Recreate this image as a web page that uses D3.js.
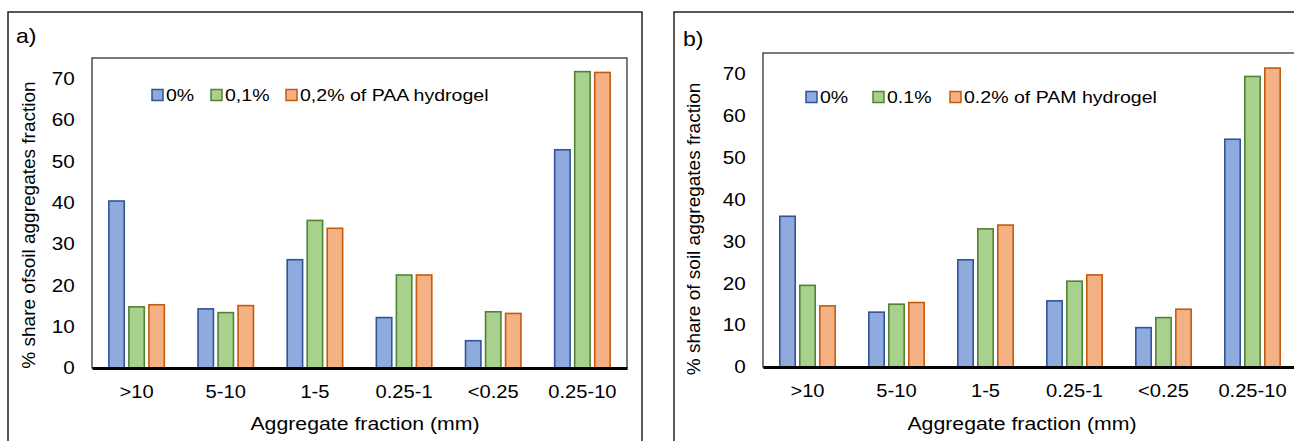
<!DOCTYPE html>
<html>
<head>
<meta charset="utf-8">
<script src="https://cdn.jsdelivr.net/npm/d3@7"></script>
<style>
  body { margin: 0; background: #fff; }
  svg text { font-family: "Liberation Sans", Arial, sans-serif; fill: #000; }
</style>
</head>
<body>
<svg id="chart" width="1294" height="441"></svg>
<script>
// aggregate fractions
var categories = ['>10', '5-10', '1-5', '0.25-1', '<0.25', '0.25-10'];
var paaZero = [40.4, 14.3, 26.2, 12.2, 6.6, 52.8];
var paaLow = [14.8, 13.4, 35.7, 22.5, 13.6, 71.7];
var paaHigh = [15.3, 15.1, 33.8, 22.5, 13.2, 71.5];
var pamZero = [36.0, 13.1, 25.6, 15.8, 9.4, 54.4];
var pamLow = [19.5, 15.0, 33.0, 20.5, 11.8, 69.4];
var pamHigh = [14.6, 15.4, 33.9, 22.0, 13.8, 71.4];
var yTicks = [0, 10, 20, 30, 40, 50, 60, 70];
var legendA = ['0%', '0,1%', '0,2% of PAA hydrogel'];
var legendB = ['0%', '0.1%', '0.2% of PAM hydrogel'];

var FILLS = ['#8faadc', '#a9d18e', '#f4b183'],
    STROKES = ['#2f5597', '#548235', '#c55a11'],
    SX = 1.15; // text in the source is a bit wide

var svg = d3.select('#chart');

function stretched(g, x, y, str, size, anchor) {
    return g.append('text')
        .attr('transform', 'translate(' + x + ',' + y + ') scale(' + SX + ',1)')
        .attr('text-anchor', anchor || 'middle')
        .attr('dy', '0.35em')
        .attr('font-size', size)
        .text(str);
}

function drawPanel(p) {
    var g = svg.append('g');
    // outer frame
    g.append('rect')
        .attr('x', p.frame[0]).attr('y', p.frame[1])
        .attr('width', p.frame[2]).attr('height', 500)
        .attr('fill', 'none').attr('stroke', '#222').attr('stroke-width', 1.5);
    // plot area box
    g.append('rect')
        .attr('x', p.l).attr('y', p.t)
        .attr('width', p.r - p.l).attr('height', p.b - p.t)
        .attr('fill', 'none').attr('stroke', '#222').attr('stroke-width', 1.2);

    var x0 = d3.scaleBand().domain(categories).range([p.l, p.r]),
        groupW = x0.bandwidth() * 0.64,
        x1 = d3.scaleBand().domain([0, 1, 2]).range([0, groupW]).paddingInner(0.15),
        y = d3.scaleLinear().domain([0, 75]).range([p.b, p.t]);

    var groups = g.selectAll('.grp')
        .data(categories).enter()
        .append('g').attr('class', 'grp')
        .attr('transform', function(d) {
            return 'translate(' + (x0(d) + (x0.bandwidth() - groupW) / 2) + ',0)';
        });
    groups.selectAll('rect')
        .data(function(d, i) {
            return p.series.map(function(s, k) { return {k: k, v: s[i]}; });
        }).enter()
        .append('rect')
        .attr('x', function(d) { return x1(d.k) + 0.8; })
        .attr('width', x1.bandwidth() - 1.6)
        .attr('y', function(d) { return y(d.v); })
        .attr('height', function(d) { return p.b - y(d.v); })
        .attr('fill', function(d) { return FILLS[d.k]; })
        .attr('stroke', function(d) { return STROKES[d.k]; })
        .attr('stroke-width', 1.6);

    // y axis labels
    var ya = g.append('g').attr('transform', 'translate(' + p.l + ',0)')
        .call(d3.axisLeft(y).tickValues(yTicks).tickSize(0).tickPadding(15));
    ya.select('.domain').remove();
    ya.selectAll('text')
        .attr('font-size', 18).attr('font-family', null)
        .attr('transform', 'scale(' + SX + ',1)');

    // x axis with heavy baseline
    var xa = g.append('g').attr('transform', 'translate(0,' + p.b + ')')
        .call(d3.axisBottom(x0).tickSize(0).tickSizeOuter(0).tickPadding(17));
    xa.select('.domain').attr('stroke', '#000').attr('stroke-width', 3);
    xa.selectAll('.tick text').remove();
    xa.selectAll('.tick').each(function(d) {
        stretched(d3.select(this), 0, 24, d, 17.5);
    });

    // titles
    stretched(g, p.xTitle[0], p.xTitle[1], 'Aggregate fraction (mm)', 18.5);
    g.append('text')
        .attr('transform', 'translate(' + p.yTitle[0] + ',' + p.yTitle[1] + ') rotate(-90)')
        .attr('text-anchor', 'middle').attr('dy', '0.35em')
        .attr('font-size', 19)
        .text(p.yLabel);
    stretched(g, p.tag[0], p.tag[1], p.tagText, 20, 'start');

    // legend
    p.legend.forEach(function(txt, k) {
        var lx = p.legendX[k];
        g.append('rect')
            .attr('x', lx).attr('y', p.legendY - 5.5)
            .attr('width', 11).attr('height', 11)
            .attr('fill', FILLS[k]).attr('stroke', STROKES[k]).attr('stroke-width', 1.5);
        stretched(g, lx + 14, p.legendY, txt, 17, 'start');
    });
}

drawPanel({
    frame: [8, 12, 634], l: 92, t: 58, r: 627, b: 368,
    series: [paaZero, paaLow, paaHigh], legend: legendA,
    legendX: [152, 211, 286], legendY: 95,
    xTitle: [365, 424], yTitle: [28, 225],
    yLabel: '% share ofsoil aggregates fraction',
    tag: [16, 36], tagText: 'a)'
});
drawPanel({
    frame: [674, 12, 700], l: 763, t: 53, r: 1297, b: 367,
    series: [pamZero, pamLow, pamHigh], legend: legendB,
    legendX: [806, 873, 950], legendY: 97,
    xTitle: [1022, 424], yTitle: [693, 229],
    yLabel: '% share of soil aggregates fraction',
    tag: [683, 39], tagText: 'b)'
});
</script>
</body>
</html>
